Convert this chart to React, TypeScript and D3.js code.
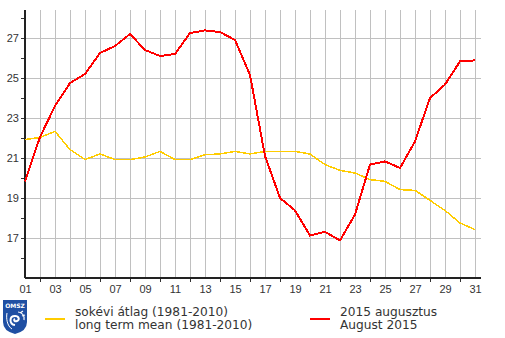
import React from "react";
import * as d3 from "d3";

const days = d3.range(1, 32);
const dayLabels = days.map((d) => (d < 10 ? "0" + d : String(d)));
const august2015 = [
  19.83, 22.05, 23.6, 24.75, 25.2, 26.25, 26.6, 27.2, 26.4, 26.1,
  26.2, 27.25, 27.38, 27.3, 26.9, 25.15, 21.1, 19.0, 18.38, 17.13,
  17.31, 16.88, 18.17, 20.67, 20.83, 20.5, 21.83, 24.0, 24.67, 25.83,
  25.88,
];
const longTermMean = [
  21.92, 22.03, 22.33, 21.42, 20.92, 21.2, 20.92, 20.92, 21.05, 21.33,
  20.92, 20.92, 21.17, 21.2, 21.33, 21.2, 21.33, 21.33, 21.33, 21.2,
  20.67, 20.38, 20.25, 19.92, 19.83, 19.42, 19.38, 18.88, 18.38, 17.75,
  17.42,
];
const majorYTicks = [17, 19, 21, 23, 25, 27];
const minorYTicks = [16, 18, 20, 22, 24, 26, 28];
const legendMean = ["sokévi átlag (1981-2010)", "long term mean (1981-2010)"];
const legendYear = ["2015 augusztus", "August 2015"];

export default function App() {
  const left = 25;
  const right = 481;
  const top = 10;
  const bottom = 278;
  const x = d3.scaleLinear().domain([1, 31]).range([25, 475]);
  const y = d3.scaleLinear().domain([15, 28.4]).range([bottom, top]);
  const line = d3
    .line<number>()
    .x((_, i) => x(days[i]))
    .y((d) => y(d));
  const textColor = "#333";
  const grid = "#c0c0c0";

  return (
    <svg
      width={505}
      height={338}
      style={{ position: "absolute", left: 0, top: 0, background: "#fff" }}
    >
      {/* vertical gridlines */}
      {days.map((d) => (
        <line
          key={"vg" + d}
          x1={x(d) + 0.5}
          x2={x(d) + 0.5}
          y1={top}
          y2={bottom}
          stroke={grid}
          strokeWidth={1}
          shapeRendering="crispEdges"
        />
      ))}
      {/* horizontal gridlines */}
      {majorYTicks.map((v) => (
        <line
          key={"hg" + v}
          x1={left}
          x2={right}
          y1={Math.round(y(v)) + 0.5}
          y2={Math.round(y(v)) + 0.5}
          stroke={grid}
          strokeWidth={1}
          shapeRendering="crispEdges"
        />
      ))}
      {/* y ticks */}
      {majorYTicks.concat(minorYTicks).map((v) => (
        <line
          key={"yt" + v}
          x1={left - 4}
          x2={left}
          y1={Math.round(y(v)) + 0.5}
          y2={Math.round(y(v)) + 0.5}
          stroke="#333"
          strokeWidth={1}
          shapeRendering="crispEdges"
        />
      ))}
      {majorYTicks.map((v) => (
        <text
          key={"yl" + v}
          x={19}
          y={y(v) + 4}
          textAnchor="end"
          fontFamily="Liberation Sans, Arial, sans-serif"
          fontSize={11}
          fill={textColor}
        >
          {v}
        </text>
      ))}
      {/* x ticks */}
      {days
        .filter((d) => d % 2 === 0)
        .map((d) => (
          <line
            key={"xt" + d}
            x1={x(d) + 0.5}
            x2={x(d) + 0.5}
            y1={bottom}
            y2={bottom + 4}
            stroke="#333"
            strokeWidth={1}
            shapeRendering="crispEdges"
          />
        ))}
      {days
        .filter((d) => d % 2 === 1)
        .map((d) => (
          <text
            key={"xl" + d}
            x={x(d) + 0.5}
            y={293}
            textAnchor="middle"
            fontFamily="Liberation Sans, Arial, sans-serif"
            fontSize={11}
            fill={textColor}
          >
            {dayLabels[d - 1]}
          </text>
        ))}
      {/* axes */}
      <line
        x1={left}
        x2={left}
        y1={top}
        y2={bottom}
        stroke="#222"
        strokeWidth={1.5}
        shapeRendering="crispEdges"
      />
      <line
        x1={left}
        x2={right}
        y1={bottom}
        y2={bottom}
        stroke="#222"
        strokeWidth={1.5}
        shapeRendering="crispEdges"
      />
      {/* series */}
      <path
        d={line(longTermMean) || ""}
        fill="none"
        stroke="#ffcc00"
        strokeWidth={1.5}
        shapeRendering="crispEdges"
      />
      <path
        d={line(august2015) || ""}
        fill="none"
        stroke="#ff0000"
        strokeWidth={2}
        shapeRendering="crispEdges"
      />
      {/* logo */}
      <g>
        <path
          d="M3,300 L27,300 L27,322 Q27,331 15,334 Q3,331 3,322 Z"
          fill="#1f4fa3"
        />
        <text
          x={15}
          y={307.5}
          textAnchor="middle"
          fontFamily="DejaVu Sans, sans-serif"
          fontWeight="bold"
          fontSize={6}
          fill="#fff"
        >
          OMSZ
        </text>
        <path
          d="M15,325 C9,324 9,316 15,316 C19,316 20,320 17,321 C15,322 13,320 15,319"
          fill="none"
          stroke="#fff"
          strokeWidth={2}
        />
        <path
          d="M18,312 C22,312 25,316 24,320 M20,313 L23,311 M22,316 L25,315"
          fill="none"
          stroke="#fff"
          strokeWidth={1.2}
        />
        <path
          d="M7,313 C6,318 7,326 12,329"
          fill="none"
          stroke="#fff"
          strokeWidth={1}
        />
      </g>
      {/* legend */}
      <line
        x1={45}
        x2={65}
        y1={319}
        y2={319}
        stroke="#ffcc00"
        strokeWidth={2}
        shapeRendering="crispEdges"
      />
      {legendMean.map((t, i) => (
        <text
          key={"lm" + i}
          x={75}
          y={315.5 + i * 13.5}
          fontFamily="DejaVu Sans, sans-serif"
          fontSize={12.2}
          fill={textColor}
        >
          {t}
        </text>
      ))}
      <line
        x1={310}
        x2={330}
        y1={319}
        y2={319}
        stroke="#ff0000"
        strokeWidth={2}
        shapeRendering="crispEdges"
      />
      {legendYear.map((t, i) => (
        <text
          key={"ly" + i}
          x={340}
          y={315.5 + i * 13.5}
          fontFamily="DejaVu Sans, sans-serif"
          fontSize={12.2}
          fill={textColor}
        >
          {t}
        </text>
      ))}
    </svg>
  );
}
